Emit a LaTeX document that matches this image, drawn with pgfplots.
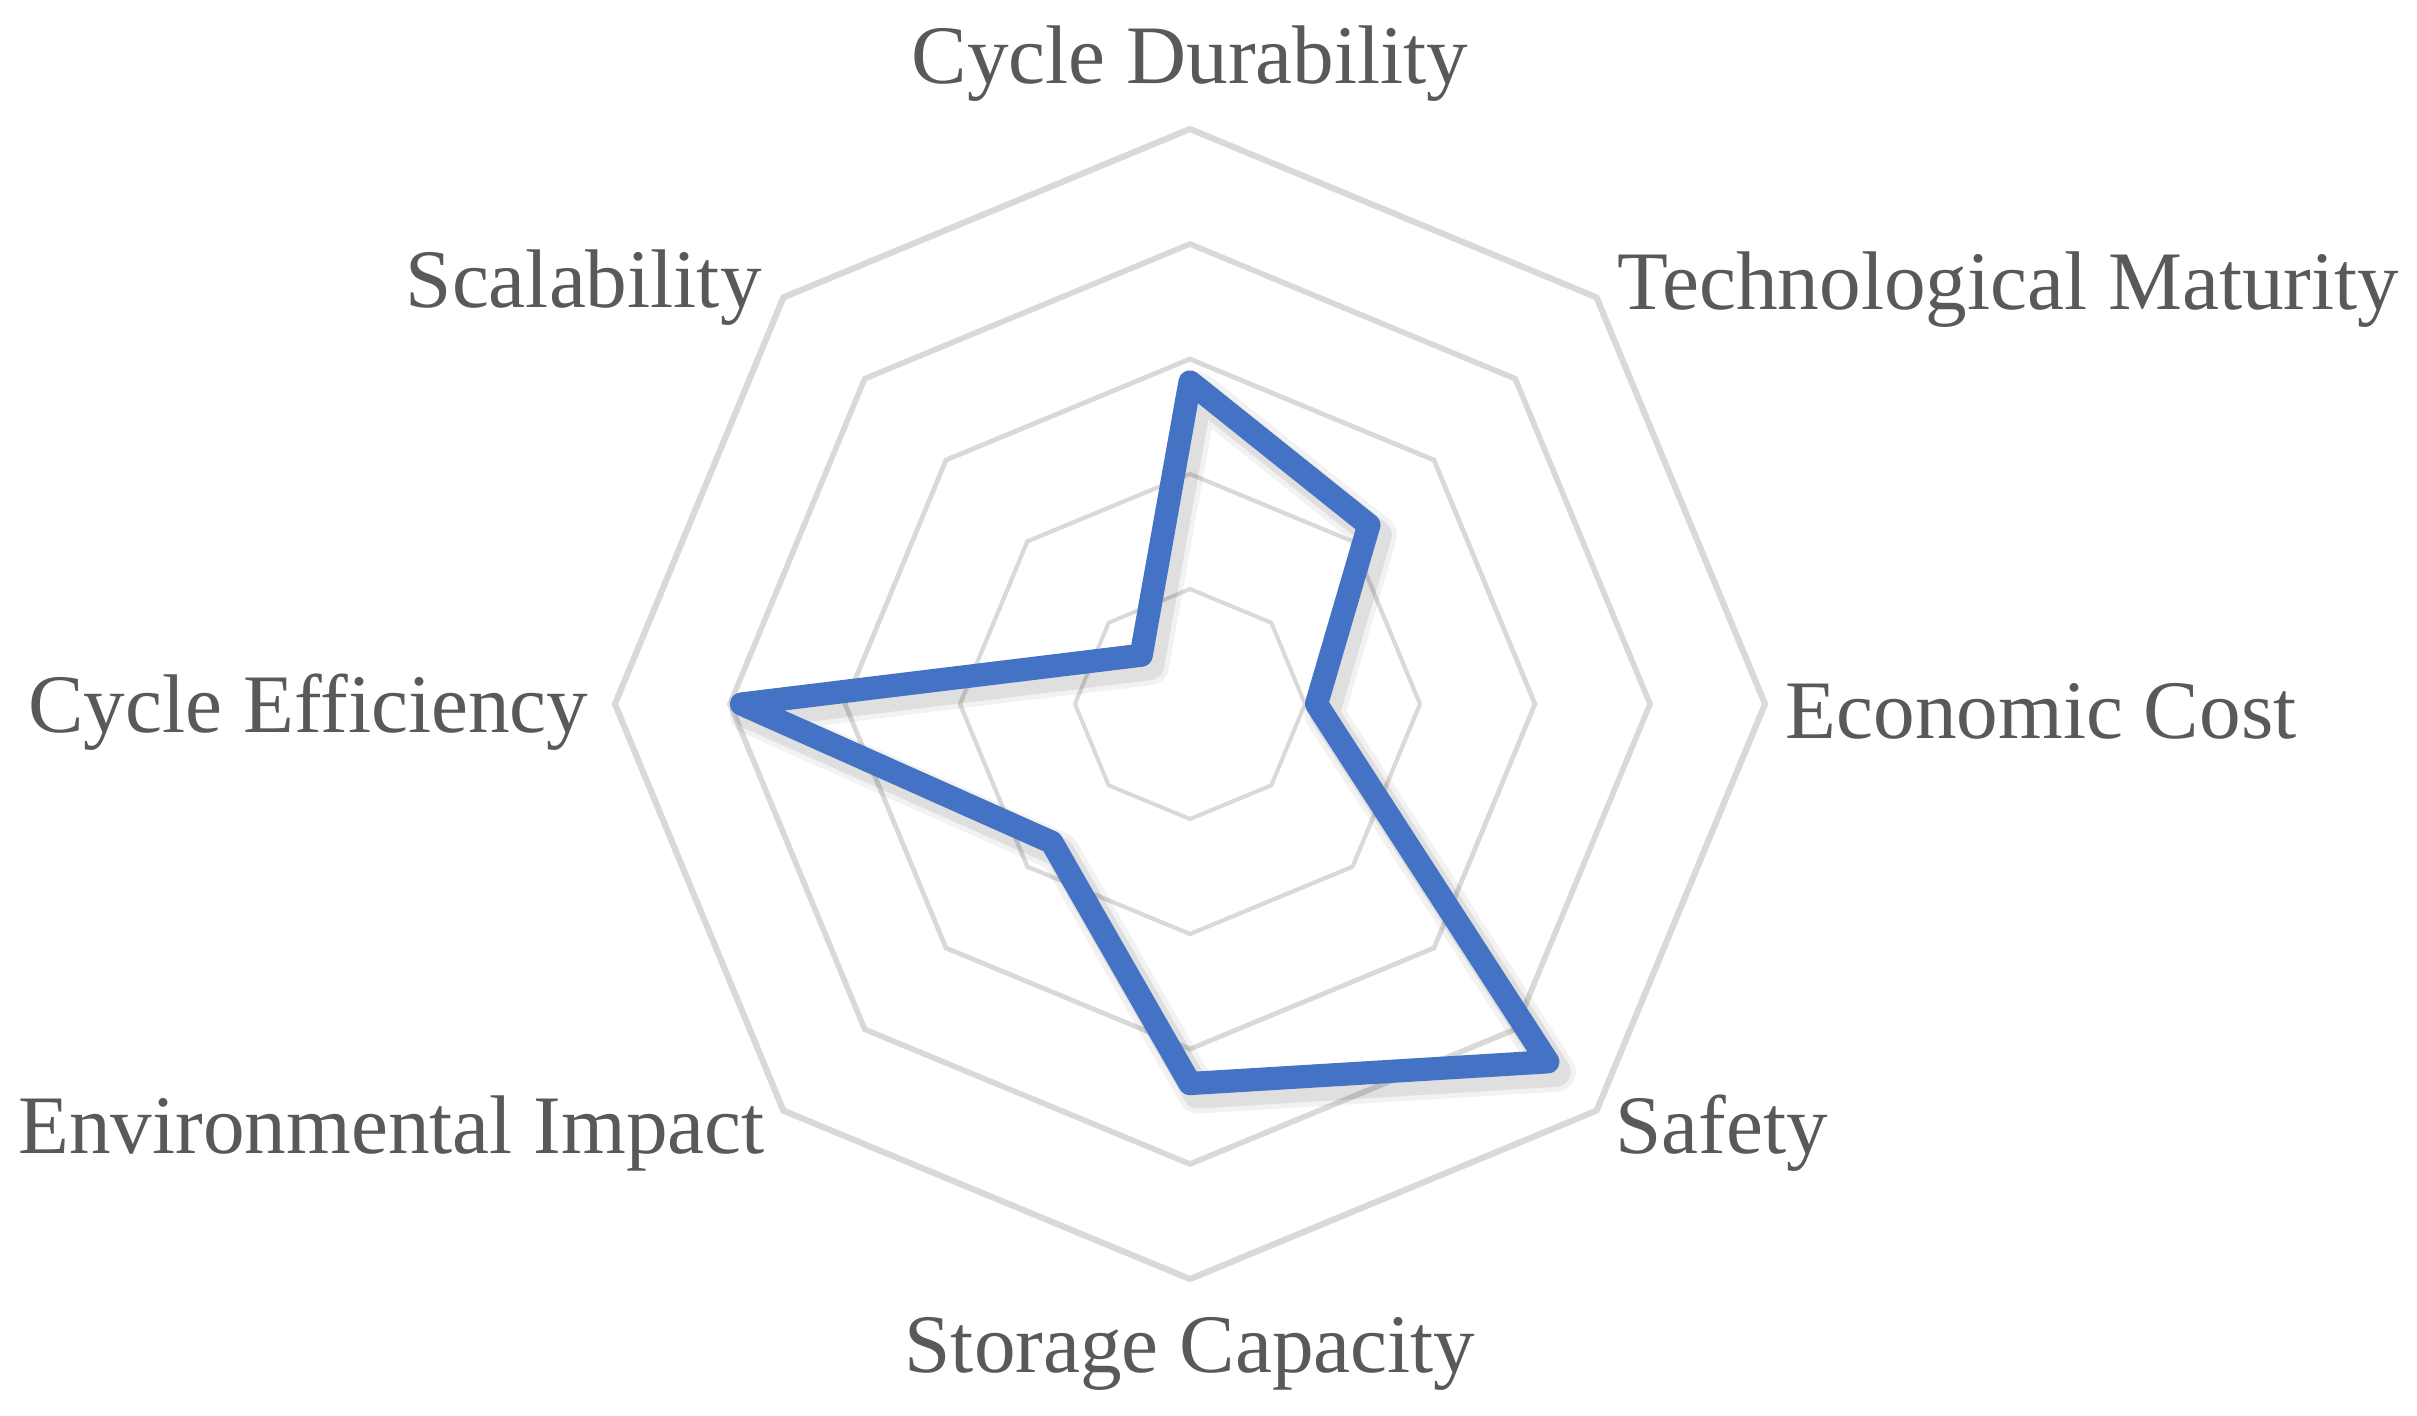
\documentclass[border=0pt]{standalone}
\usepackage{pgfplots}
\pgfplotsset{compat=1.18}
\usepgfplotslibrary{polar}
\usepackage{fontspec}
\setmainfont{Liberation Serif}
\definecolor{gridc}{HTML}{D9D9D9}
\definecolor{serc}{HTML}{4472C4}
\definecolor{txtc}{HTML}{595959}
\tikzset{lab/.style={font=\fontsize{20.8pt}{24pt}\selectfont, text=txtc, inner sep=0pt}}
\begin{document}
\begin{tikzpicture}
\useasboundingbox (-297.5pt,-177.75pt) rectangle (306.75pt,176pt);
\begin{polaraxis}[
  at={(0,0)}, anchor=center,
  scale only axis, width=287.5pt, height=287.5pt,
  xmin=0, xmax=360, ymin=0, ymax=5,
  hide axis, clip=false,
]
% grid rings
\addplot[gridc, line width=1.0pt, forget plot] coordinates {(0,1) (45,1) (90,1) (135,1) (180,1) (225,1) (270,1) (315,1) (360,1) (45,1)};
\addplot[gridc, line width=1.05pt, forget plot] coordinates {(0,2) (45,2) (90,2) (135,2) (180,2) (225,2) (270,2) (315,2) (360,2) (45,2)};
\addplot[gridc, line width=1.2pt, forget plot] coordinates {(0,3) (45,3) (90,3) (135,3) (180,3) (225,3) (270,3) (315,3) (360,3) (45,3)};
\addplot[gridc, line width=1.4pt, forget plot] coordinates {(0,4) (45,4) (90,4) (135,4) (180,4) (225,4) (270,4) (315,4) (360,4) (45,4)};
\addplot[gridc, line width=1.55pt, forget plot] coordinates {(0,5) (45,5) (90,5) (135,5) (180,5) (225,5) (270,5) (315,5) (360,5) (45,5)};
% shadow
\addplot[black, opacity=0.05, line width=10pt, line join=round, line cap=round, xshift=2pt, yshift=-2.5pt] coordinates {
(90,2.8) (45,2.2) (0,1.1) (315,4.4) (270,3.3) (225,1.7) (180,3.9) (135,0.6) (90,2.8)};
\addplot[black, opacity=0.08, line width=7.5pt, line join=round, line cap=round, xshift=2pt, yshift=-2.5pt] coordinates {
(90,2.8) (45,2.2) (0,1.1) (315,4.4) (270,3.3) (225,1.7) (180,3.9) (135,0.6) (90,2.8)};
% series
\addplot[serc, line width=5.8pt, line join=round, line cap=round] coordinates {
(90,2.8) (45,2.2) (0,1.1) (315,4.4) (270,3.3) (225,1.7) (180,3.9) (135,0.6) (90,2.8)};
% labels
\node[lab, anchor=base] at (axis cs:90,5) [yshift=11.25pt] {Cycle Durability};
\node[lab, anchor=base west] at (axis cs:45,5) [xshift=5pt, yshift=-3pt] {Technological Maturity};
\node[lab, anchor=base west] at (axis cs:0,5) [xshift=5pt, yshift=-8.5pt] {Economic Cost};
\node[lab, anchor=base west] at (axis cs:315,5) [xshift=4.5pt, yshift=-10.75pt] {Safety};
\node[lab, anchor=base] at (axis cs:270,5) [yshift=-23.25pt] {Storage Capacity};
\node[lab, anchor=base east] at (axis cs:225,5) [xshift=-4.5pt, yshift=-10.75pt] {Environmental Impact};
\node[lab, anchor=base east] at (axis cs:180,5) [xshift=-6.5pt, yshift=-7pt] {Cycle Efficiency};
\node[lab, anchor=base east] at (axis cs:135,5) [xshift=-5.25pt, yshift=-2.5pt] {Scalability};
\end{polaraxis}
\end{tikzpicture}
\end{document}
